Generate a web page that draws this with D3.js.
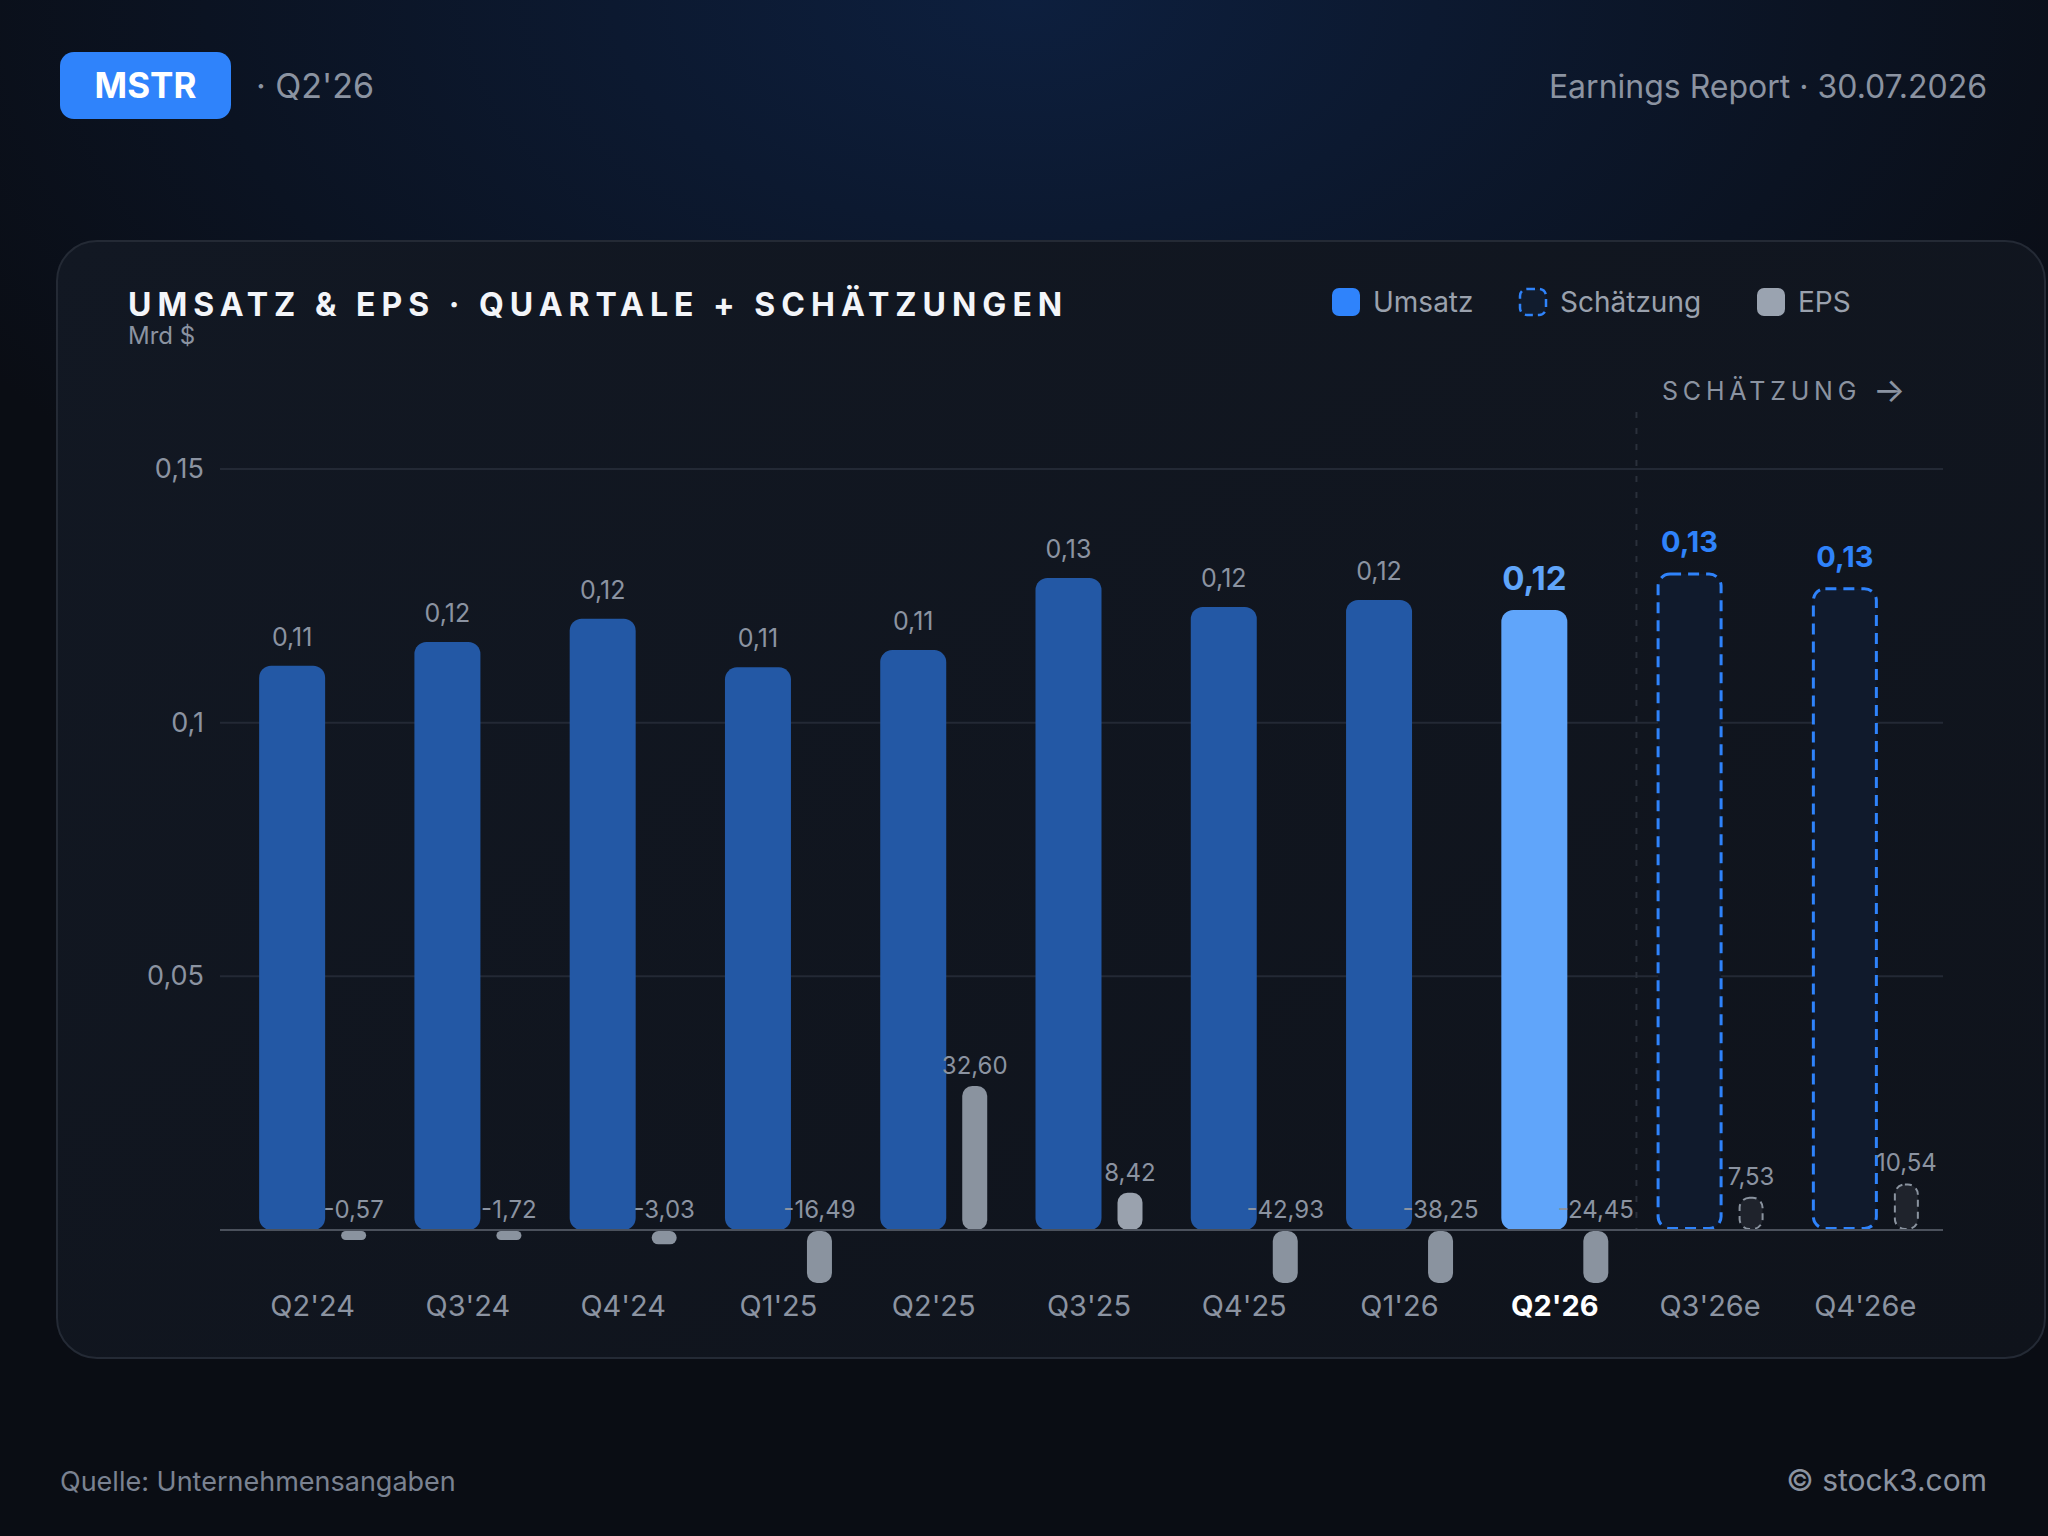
<!DOCTYPE html>
<html>
<head>
<meta charset="utf-8">
<script src="https://cdn.jsdelivr.net/npm/d3@7"></script>
<style>
  html, body { margin: 0; padding: 0; background: #0a0d14; }
  svg { display: block; font-family: Inter, "Noto Sans", sans-serif; }
</style>
</head>
<body>
<div id="viz"></div>
<script>
// values
var quarters = ["Q2'24", "Q3'24", "Q4'24", "Q1'25", "Q2'25", "Q3'25", "Q4'25", "Q1'26", "Q2'26", "Q3'26e", "Q4'26e"]
var revenue = [0.1112, 0.1159, 0.1205, 0.1109, 0.1143, 0.1285, 0.1228, 0.1242, 0.1222, 0.1296, 0.1267]
var eps = [-0.57, -1.72, -3.03, -16.49, 32.60, 8.42, -42.93, -38.25, -24.45, 7.53, 10.54]
var estimate = [false, false, false, false, false, false, false, false, false, true, true]
var currentQuarter = "Q2'26"
var yTicks = [0.05, 0.1, 0.15]
var legendItems = ["Umsatz", "Schätzung", "EPS"]

var rows = quarters.map((q, i) => ({q: q, rev: revenue[i], eps: eps[i], est: estimate[i]}))

var de = d3.formatLocale({decimal: ",", thousands: ".", grouping: [3], currency: ["", " $"], minus: "-"})
var fmtRev = de.format(".2f")
var fmtTick = de.format("~g")
var fmtEps = de.format(".2f")

var W = 2048, H = 1536

var svg = d3.select("#viz")
    .append("svg")
    .attr("width", W)
    .attr("height", H)

var defs = svg.append("defs")

var glow = defs.append("radialGradient")
    .attr("id", "glow")
    .attr("cx", "50%").attr("cy", "0%")
    .attr("r", "60%")
    .attr("gradientTransform", "translate(0,0) scale(1,0.75)")
glow.append("stop").attr("offset", "0%").attr("stop-color", "#0d1f3e")
glow.append("stop").attr("offset", "100%").attr("stop-color", "#0a0d14")

var cardFill = defs.append("linearGradient")
    .attr("id", "cardFill")
    .attr("x1", "0").attr("y1", "0").attr("x2", "1").attr("y2", "1")
cardFill.append("stop").attr("offset", "0%").attr("stop-color", "#121823")
cardFill.append("stop").attr("offset", "100%").attr("stop-color", "#0f131b")

// background
svg.append("rect").attr("width", W).attr("height", H).attr("fill", "#0a0d14")
svg.append("rect").attr("width", W).attr("height", H).attr("fill", "url(#glow)")

// header
svg.append("rect")
    .attr("x", 60).attr("y", 52)
    .attr("width", 171).attr("height", 67)
    .attr("rx", 14)
    .attr("fill", "#2f83fb")
svg.append("text")
    .attr("x", 145.5).attr("y", 98)
    .attr("text-anchor", "middle")
    .attr("font-size", 35).attr("font-weight", 700)
    .attr("fill", "#ffffff")
    .text("MSTR")
svg.append("text")
    .attr("x", 256).attr("y", 98)
    .attr("font-size", 34)
    .attr("fill", "#8b93a1")
    .text("· " + currentQuarter)
svg.append("text")
    .attr("x", 1987).attr("y", 98)
    .attr("text-anchor", "end")
    .attr("font-size", 32)
    .attr("fill", "#8b93a1")
    .text("Earnings Report · 30.07.2026")

// card
svg.append("rect")
    .attr("x", 57).attr("y", 241)
    .attr("width", 1988).attr("height", 1117)
    .attr("rx", 40)
    .attr("fill", "url(#cardFill)")
    .attr("stroke", "#242a35")
    .attr("stroke-width", 2)

svg.append("text")
    .attr("x", 128).attr("y", 316)
    .attr("font-size", 32).attr("font-weight", 700)
    .attr("letter-spacing", 6)
    .attr("fill", "#f3f5f9")
    .text("UMSATZ & EPS · QUARTALE + SCHÄTZUNGEN")
svg.append("text")
    .attr("x", 128).attr("y", 344)
    .attr("font-size", 24)
    .attr("fill", "#8b93a1")
    .text("Mrd $")

// legend
var legendX = [1332, 1519, 1757]
var legend = svg.append("g")
    .selectAll("g")
    .data(legendItems)
    .enter()
    .append("g")
    .attr("transform", (d, i) => "translate(" + legendX[i] + ",288)")
legend.append("rect")
    .attr("x", (d, i) => i == 1 ? 1 : 0)
    .attr("y", (d, i) => i == 1 ? 1 : 0)
    .attr("width", (d, i) => i == 1 ? 26 : 28)
    .attr("height", (d, i) => i == 1 ? 26 : 28)
    .attr("rx", 7)
    .attr("fill", (d, i) => ["#2f83fb", "#111c2e", "#9aa3b0"][i])
    .attr("stroke", (d, i) => i == 1 ? "#2f83fb" : "none")
    .attr("stroke-width", 2.5)
    .attr("stroke-dasharray", "8,5")
legend.append("text")
    .attr("x", 41).attr("y", 24)
    .attr("font-size", 28)
    .attr("fill", "#9aa1ad")
    .text(d => d)

// scales
var x = d3.scaleBand()
    .domain(quarters)
    .range([235, 1943])
    .padding(0)
var y = d3.scaleLinear()
    .domain([0, 0.15])
    .range([1230, 469])
var epsY = d3.scaleLinear()
    .domain([-11.8, 0, 32.6])
    .range([1282, 1230, 1086])
    .clamp(true)

var cx = q => x(q) + x.bandwidth() / 2
var revW = 66, epsW = 25

// grid
svg.append("g")
    .selectAll("line")
    .data(yTicks)
    .enter()
    .append("line")
    .attr("x1", 220).attr("x2", 1943)
    .attr("y1", d => y(d)).attr("y2", d => y(d))
    .attr("stroke", "#232935")
    .attr("stroke-width", 2)

var yAxis = svg.append("g")
    .attr("transform", "translate(204,0)")
    .call(d3.axisLeft(y).tickValues(yTicks).tickFormat(fmtTick).tickSize(0).tickPadding(0))
yAxis.select(".domain").remove()
yAxis.selectAll("text")
    .attr("font-family", "Inter, sans-serif")
    .attr("font-size", 27)
    .attr("fill", "#8b93a1")

// estimate separator
var firstEst = quarters[estimate.indexOf(true)]
svg.append("line")
    .attr("x1", x(firstEst) + 4).attr("x2", x(firstEst) + 4)
    .attr("y1", 412).attr("y2", 1230)
    .attr("stroke", "#2a303b")
    .attr("stroke-width", 2)
    .attr("stroke-dasharray", "6,10")
var estLabel = svg.append("text")
    .attr("x", 1662).attr("y", 400)
    .attr("font-size", 25)
    .attr("letter-spacing", 4.8)
    .attr("fill", "#8b93a1")
estLabel.append("tspan").text("SCHÄTZUNG ")
estLabel.append("tspan")
    .attr("font-size", 34)
    .attr("letter-spacing", 0)
    .attr("dy", 2)
    .text("→")

// revenue bars
var groups = svg.append("g")
    .selectAll("g")
    .data(rows)
    .enter()
    .append("g")
    .attr("class", "overallG")

groups.append("rect")
    .attr("x", d => cx(d.q) - 53.5 + (d.est ? 1.5 : 0))
    .attr("y", d => y(d.rev) + (d.est ? 1.5 : 0))
    .attr("width", d => revW - (d.est ? 3 : 0))
    .attr("height", d => y(0) - y(d.rev) - (d.est ? 3 : 0))
    .attr("rx", 12)
    .attr("fill", d => d.est ? "#101a2c" : (d.q == currentQuarter ? "#60a5fa" : "#2358a5"))
    .attr("stroke", d => d.est ? "#2f83fb" : "none")
    .attr("stroke-width", 3)
    .attr("stroke-dasharray", "11,7")

// zero line
svg.append("line")
    .attr("x1", 220).attr("x2", 1943)
    .attr("y1", y(0)).attr("y2", y(0))
    .attr("stroke", "#4b515c")
    .attr("stroke-width", 2)

// eps bars
groups.append("rect")
    .attr("x", d => cx(d.q) + 28.5 + (d.est ? 1 : 0))
    .attr("y", d => {
        var h = Math.max(9, Math.abs(epsY(d.eps) - y(0)))
        return d.eps >= 0 ? y(0) - h + (d.est ? 1 : 0) : y(0) + 1
    })
    .attr("width", d => epsW - (d.est ? 2 : 0))
    .attr("height", d => Math.max(9, Math.abs(epsY(d.eps) - y(0))) - (d.est ? 2 : 0))
    .attr("rx", d => Math.min(10, Math.max(9, Math.abs(epsY(d.eps) - y(0))) / 2))
    .attr("fill", d => d.est ? "#1f232c" : (d.eps >= 0 && d.eps < 20 ? "#9aa2ae" : "#8a939f"))
    .attr("stroke", d => d.est ? "#8a939f" : "none")
    .attr("stroke-width", 2)
    .attr("stroke-dasharray", "7,5")

// revenue labels
groups.append("text")
    .attr("x", d => cx(d.q) - 20.5)
    .attr("y", d => y(d.rev) - 20)
    .attr("text-anchor", "middle")
    .attr("font-size", d => d.q == currentQuarter ? 33 : (d.est ? 29 : 25))
    .attr("font-weight", d => (d.q == currentQuarter || d.est) ? 700 : 400)
    .attr("fill", d => d.q == currentQuarter ? "#60a5fa" : (d.est ? "#2f83fb" : "#8b93a1"))
    .text(d => fmtRev(d.rev))

// eps labels
groups.append("text")
    .attr("x", d => cx(d.q) + 41)
    .attr("y", d => (d.eps >= 0 ? epsY(d.eps) : y(0)) - 12)
    .attr("text-anchor", "middle")
    .attr("font-size", 24)
    .attr("fill", "#8b93a1")
    .text(d => fmtEps(d.eps))

// x labels
svg.append("g")
    .selectAll("text")
    .data(quarters)
    .enter()
    .append("text")
    .attr("x", d => cx(d))
    .attr("y", 1316)
    .attr("text-anchor", "middle")
    .attr("font-size", 29)
    .attr("font-weight", d => d == currentQuarter ? 700 : 400)
    .attr("fill", d => d == currentQuarter ? "#ffffff" : "#8b93a1")
    .text(d => d)

// footer
svg.append("text")
    .attr("x", 60).attr("y", 1491)
    .attr("font-size", 27)
    .attr("fill", "#7a8291")
    .text("Quelle: Unternehmensangaben")
svg.append("text")
    .attr("x", 1987).attr("y", 1491)
    .attr("text-anchor", "end")
    .attr("font-size", 30)
    .attr("fill", "#8b93a1")
    .text("© stock3.com")
</script>
</body>
</html>
